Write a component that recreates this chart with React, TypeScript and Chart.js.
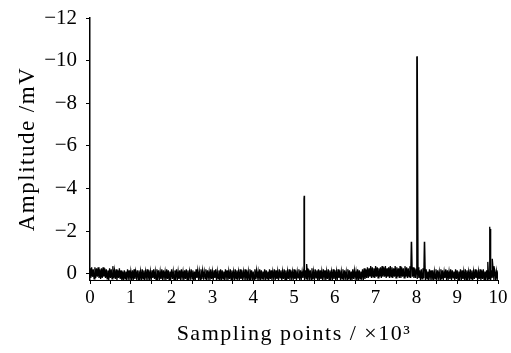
import { useEffect, useRef } from "react";
import { Chart, registerables } from "chart.js";

Chart.register(...registerables);

// Sampling axis (×10^3 points)
const xTickValues = [0, 1, 2, 3, 4, 5, 6, 7, 8, 9, 10];
const yTickValues = [-12, -10, -8, -6, -4, -2, 0];

// Background noise, sampled every 0.02 ×10^3 points (values in mV)
const noiseStep = 0.02;
const noiseValues = [
  -0.25, 0.2, -0.3, 0.15, -0.2, 0.25, -0.3, 0.2, -0.25, 0.15, -0.3, 0.2, -0.2, 0.25, -0.25, 0.2, -0.3, 0.15, -0.25, 0.2,
  -0.2, 0.25, -0.15, 0.3, -0.25, 0.2, -0.2, 0.25, -0.35, 0.2, -0.15, 0.25, -0.2, 0.3, -0.15, 0.2, -0.25, 0.25, -0.15, 0.3,
  -0.1, 0.3, -0.15, 0.25, -0.1, 0.3, -0.2, 0.2, -0.15, 0.3, -0.1, 0.25, -0.15, 0.3, -0.2, 0.25, -0.1, 0.2, -0.15, 0.3,
  -0.15, 0.25, -0.1, 0.3, -0.2, 0.25, -0.15, 0.3, -0.1, 0.2, -0.2, 0.3, -0.15, 0.25, -0.1, 0.3, -0.15, 0.2, -0.2, 0.25,
  -0.1, 0.3, -0.2, 0.2, -0.15, 0.3, -0.1, 0.25, -0.2, 0.3, -0.15, 0.2, -0.1, 0.3, -0.2, 0.25, -0.15, 0.3, -0.1, 0.2,
  -0.2, 0.25, -0.1, 0.3, -0.15, 0.2, -0.2, 0.3, -0.1, 0.25, -0.15, 0.3, -0.2, 0.2, -0.1, 0.3, -0.15, 0.25, -0.2, 0.3,
  -0.15, 0.3, -0.1, 0.2, -0.2, 0.25, -0.15, 0.3, -0.1, 0.3, -0.2, 0.2, -0.15, 0.25, -0.1, 0.3, -0.2, 0.25, -0.15, 0.2,
  -0.1, 0.25, -0.2, 0.3, -0.15, 0.2, -0.1, 0.3, -0.2, 0.25, -0.1, 0.3, -0.15, 0.2, -0.2, 0.3, -0.1, 0.25, -0.15, 0.3,
  -0.2, 0.3, -0.15, 0.25, -0.1, 0.3, -0.2, 0.2, -0.15, 0.3, -0.1, 0.25, -0.2, 0.3, -0.15, 0.2, -0.1, 0.3, -0.2, 0.25,
  -0.15, 0.2, -0.1, 0.3, -0.2, 0.25, -0.15, 0.3, -0.1, 0.2, -0.2, 0.3, -0.15, 0.25, -0.1, 0.3, -0.2, 0.2, -0.15, 0.3,
  -0.1, 0.3, -0.2, 0.25, -0.15, 0.2, -0.1, 0.3, -0.2, 0.3, -0.15, 0.25, -0.1, 0.2, -0.2, 0.3, -0.15, 0.25, -0.1, 0.3,
  -0.2, 0.25, -0.15, 0.3, -0.1, 0.2, -0.2, 0.3, -0.15, 0.25, -0.1, 0.3, -0.2, 0.2, -0.15, 0.3, -0.1, 0.25, -0.2, 0.3,
  -0.15, 0.3, -0.1, 0.25, -0.2, 0.3, -0.15, 0.2, -0.1, 0.3, -0.2, 0.25, -0.15, 0.3, -0.1, 0.2, -0.2, 0.3, -0.15, 0.25,
  -0.1, 0.2, -0.2, 0.3, -0.15, 0.25, -0.25, 0.3, -0.2, 0.2, -0.15, 0.3, -0.25, 0.25, -0.1, 0.3, -0.2, 0.2, -0.15, 0.3,
  -0.2, 0.3, -0.15, 0.25, -0.1, 0.3, -0.2, 0.2, -0.15, 0.3, -0.1, 0.25, -0.2, 0.3, -0.15, 0.2, -0.1, 0.3, -0.2, 0.25,
  -0.15, 0.25, -0.1, 0.3, -0.2, 0.2, -0.15, 0.3, -0.1, 0.25, -0.2, 0.3, -0.15, 0.2, -0.1, 0.3, -0.2, 0.25, -0.15, 0.3,
  -0.1, 0.3, -0.2, 0.25, -0.15, 0.2, -0.1, 0.3, -0.2, 0.3, -0.15, 0.25, -0.1, 0.2, -0.2, 0.3, -0.25, 0.25, -0.2, 0.2,
  -0.3, 0.2, -0.25, 0.15, -0.35, 0.2, -0.3, 0.15, -0.25, 0.2, -0.35, 0.15, -0.3, 0.2, -0.25, 0.15, -0.3, 0.2, -0.35, 0.15,
  -0.3, 0.15, -0.35, 0.2, -0.25, 0.15, -0.3, 0.2, -0.35, 0.15, -0.3, 0.2, -0.25, 0.15, -0.35, 0.2, -0.3, 0.15, -0.25, 0.2,
  -0.35, 0.2, -0.3, 0.15, -0.25, 0.2, -0.35, 0.15, -0.3, 0.2, -0.25, 0.15, -0.35, 0.2, -0.3, 0.15, -0.3, 0.2, -0.25, 0.2,
  -0.2, 0.25, -0.3, 0.2, -0.15, 0.3, -0.2, 0.25, -0.25, 0.2, -0.15, 0.3, -0.2, 0.25, -0.1, 0.3, -0.2, 0.2, -0.15, 0.3,
  -0.15, 0.3, -0.1, 0.25, -0.2, 0.3, -0.15, 0.2, -0.1, 0.3, -0.2, 0.25, -0.15, 0.3, -0.1, 0.2, -0.2, 0.3, -0.15, 0.25,
  -0.1, 0.25, -0.2, 0.3, -0.15, 0.2, -0.1, 0.3, -0.2, 0.25, -0.15, 0.3, -0.1, 0.2, -0.2, 0.3, -0.15, 0.25, -0.1, 0.3,
  -0.2, 0.3, -0.15, 0.2, -0.1, 0.3, -0.2, 0.25, -0.15, 0.3, -0.1, 0.25, -0.2, 0.2, -0.15, 0.3, -0.1, 0.25, -0.2, 0.3,
  -0.15, 0.25, -0.2, 0.3, -0.1, 0.2, -0.15, 0.3, -0.2, 0.25, -0.1, 0.3, -0.15, 0.2, -0.2, 0.3, -0.15, 0.25, -0.1, 0.3,
  -0.15,
];

// Discharge spikes (position ×10^3 points, amplitude mV)
const spikePositions = [5.245, 5.25, 5.255, 5.31, 7.875, 7.885, 8.01, 8.015, 8.02, 8.025, 8.195, 8.205, 9.75, 9.795, 9.805, 9.86, 9.9];
const spikeValues = [-3.5, -3.65, -3.4, -0.45, -1.5, -1.45, -10.15, -10.2, -10.1, -10.2, -1.5, -1.45, -0.55, -2.2, -2.1, -0.7, -0.35];

const FONT = "'Liberation Serif', 'Times New Roman', serif";

const fmtY = (v: number) => (v < 0 ? "\u2212" + Math.abs(v) : String(v));

// draw an axis title with a little letter spacing, like the original figure
function spaceTitle(s: any, spacing: string) {
  if (s.__spaced) return;
  s.__spaced = true;
  const orig = s.drawTitle;
  s.drawTitle = function (...args: any[]) {
    const ctx = this.ctx as any;
    const prev = ctx.letterSpacing;
    ctx.letterSpacing = spacing;
    orig.apply(this, args);
    ctx.letterSpacing = prev;
  };
}

export default function App() {
  const ref = useRef<HTMLCanvasElement | null>(null);

  useEffect(() => {
    document.body.style.margin = "0";
    const pts: { x: number; y: number }[] = noiseValues.map((v, i) => ({
      x: Math.round(i * noiseStep * 1000) / 1000,
      y: v,
    }));
    spikePositions.forEach((x, i) => pts.push({ x, y: spikeValues[i] }));
    pts.sort((a, b) => a.x - b.x);

    const chart = new Chart(ref.current as HTMLCanvasElement, {
      type: "line",
      data: {
        datasets: [
          {
            data: pts,
            borderColor: "#000",
            borderWidth: 1.3,
            pointRadius: 0,
            tension: 0,
            fill: false,
          },
        ],
      },
      options: {
        animation: false,
        responsive: false,
        plugins: { legend: { display: false }, tooltip: { enabled: false } },
        layout: { padding: { left: 0, right: 13, top: 18, bottom: 0 } },
        scales: {
          x: {
            type: "linear",
            min: 0,
            max: 10,
            afterBuildTicks: (s: any) => {
              const t: any[] = [];
              xTickValues.forEach((v, i) => {
                t.push({ value: v });
                if (i < xTickValues.length - 1) t.push({ value: v + 0.5 });
              });
              s.ticks = t;
            },
            ticks: {
              color: "#000",
              font: { family: FONT, size: 19 },
              padding: 3,
              maxRotation: 0,
              autoSkip: false,
              callback: (v: any) => (Number.isInteger(v) ? String(v) : ""),
            },
            grid: {
              display: true,
              drawOnChartArea: false,
              drawTicks: true,
              tickLength: 4,
              color: "#000",
            },
            border: { display: true, color: "#000", width: 1 },
            title: {
              display: true,
              text: "Sampling points / \u00d710\u00b3",
              color: "#000",
              font: { family: FONT, size: 22 },
              padding: { top: 0, bottom: 6 },
            },
            afterFit: (s: any) => {
              s.height = 73;
              s.paddingLeft = 0;
              s.paddingRight = 0;
              spaceTitle(s, "1.5px");
            },
          },
          y: {
            type: "linear",
            reverse: true,
            min: -12,
            max: 0.3,
            afterBuildTicks: (s: any) => {
              s.ticks = yTickValues.map((v) => ({ value: v }));
            },
            ticks: {
              color: "#000",
              font: { family: FONT, size: 21 },
              padding: 9,
              callback: (v: any) => fmtY(Number(v)),
            },
            grid: {
              display: true,
              drawOnChartArea: false,
              drawTicks: true,
              tickLength: 4,
              color: "#000",
            },
            border: { display: true, color: "#000", width: 1.5 },
            title: {
              display: true,
              text: "Amplitude /mV",
              color: "#000",
              font: { family: FONT, size: 23 },
              padding: { top: 14, bottom: 0 },
            },
            afterFit: (s: any) => {
              s.width = 90;
              s.paddingTop = 0;
              s.paddingBottom = 0;
              spaceTitle(s, "1.5px");
            },
          },
        },
      },
    });
    return () => chart.destroy();
  }, []);

  return (
    <div style={{ width: 511, height: 353, background: "#fff" }}>
      <canvas ref={ref} width={511} height={353} style={{ display: "block" }} />
    </div>
  );
}
